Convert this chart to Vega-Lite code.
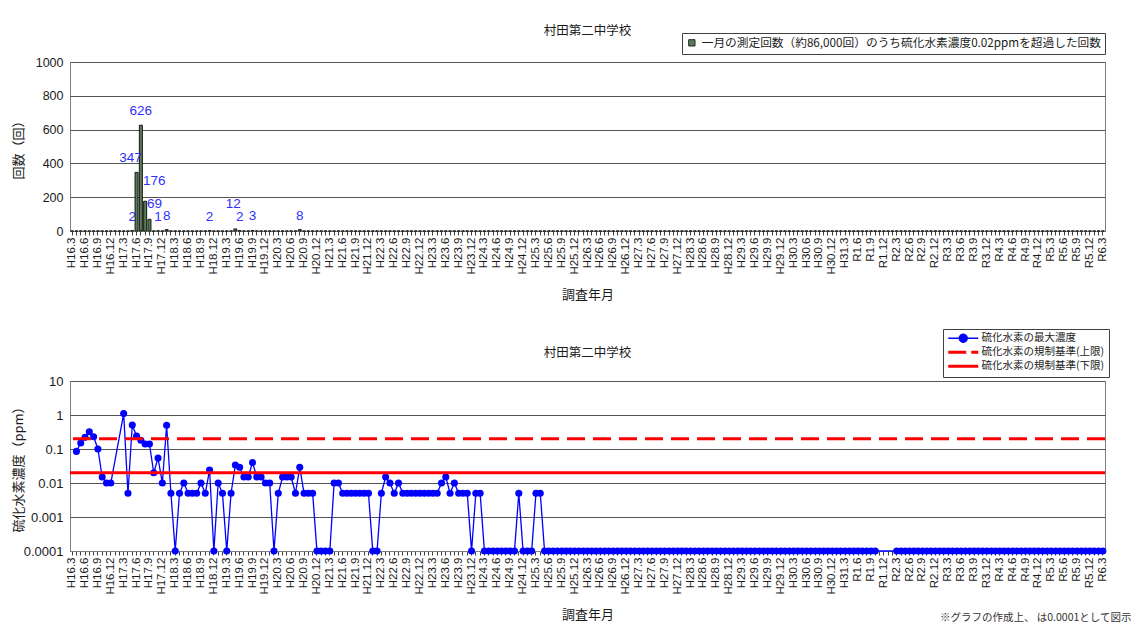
{
  "$schema": "https://vega.github.io/schema/vega-lite/v6.json",
  "background": "white",
  "padding": {"left": 11, "top": 24, "right": 0, "bottom": 4},
  "config": {
    "font": "Noto Sans CJK JP",
    "view": {"stroke": "#7f7f7f", "strokeWidth": 1},
    "axis": {
      "domainColor": "#7f7f7f",
      "tickColor": "#404040",
      "labelColor": "#1a1a1a",
      "titleColor": "#1a1a1a",
      "titleFont": "Noto Sans CJK JP",
      "titleFontWeight": "normal",
      "labelFont": "Liberation Sans",
      "gridColor": "#555555",
      "gridWidth": 1
    },
    "title": {"font": "Noto Sans CJK JP", "fontWeight": "normal", "color": "#1a1a1a", "fontSize": 12.5}
  },
  "title": {"text": "※グラフの作成上、 は0.0001として図示", "orient": "bottom", "anchor": "end", "fontSize": 10.5, "color": "#333333", "offset": -9, "dx": 22},
  "data": {"values": [
    {"m":"2004-03","c":0,"v":null},{"m":"2004-04","c":0,"v":0.085},{"m":"2004-05","c":0,"v":0.15},{"m":"2004-06","c":0,"v":0.22},{"m":"2004-07","c":0,"v":0.32},{"m":"2004-08","c":0,"v":0.23},{"m":"2004-09","c":0,"v":0.1},{"m":"2004-10","c":0,"v":0.015},{"m":"2004-11","c":0,"v":0.01},{"m":"2004-12","c":0,"v":0.01},
    {"m":"2005-01","c":0,"v":null},{"m":"2005-02","c":0,"v":null},{"m":"2005-03","c":0,"v":1.1},{"m":"2005-04","c":0,"v":0.005},{"m":"2005-05","c":2,"v":0.51},{"m":"2005-06","c":347,"v":0.24},{"m":"2005-07","c":626,"v":0.18},{"m":"2005-08","c":176,"v":0.14},{"m":"2005-09","c":69,"v":0.14},{"m":"2005-10","c":0,"v":0.02},{"m":"2005-11","c":1,"v":0.054},{"m":"2005-12","c":0,"v":0.01},
    {"m":"2006-01","c":8,"v":0.5},{"m":"2006-02","c":0,"v":0.005},{"m":"2006-03","c":0,"v":0.0001},{"m":"2006-04","c":0,"v":0.005},{"m":"2006-05","c":0,"v":0.01},{"m":"2006-06","c":0,"v":0.005},{"m":"2006-07","c":0,"v":0.005},{"m":"2006-08","c":0,"v":0.005},{"m":"2006-09","c":0,"v":0.01},{"m":"2006-10","c":0,"v":0.005},{"m":"2006-11","c":2,"v":0.024},{"m":"2006-12","c":0,"v":0.0001},
    {"m":"2007-01","c":0,"v":0.01},{"m":"2007-02","c":0,"v":0.005},{"m":"2007-03","c":0,"v":0.0001},{"m":"2007-04","c":0,"v":0.005},{"m":"2007-05","c":12,"v":0.034},{"m":"2007-06","c":2,"v":0.029},{"m":"2007-07","c":0,"v":0.015},{"m":"2007-08","c":0,"v":0.015},{"m":"2007-09","c":3,"v":0.04},{"m":"2007-10","c":0,"v":0.015},{"m":"2007-11","c":0,"v":0.015},{"m":"2007-12","c":0,"v":0.01},
    {"m":"2008-01","c":0,"v":0.01},{"m":"2008-02","c":0,"v":0.0001},{"m":"2008-03","c":0,"v":0.005},{"m":"2008-04","c":0,"v":0.015},{"m":"2008-05","c":0,"v":0.015},{"m":"2008-06","c":0,"v":0.015},{"m":"2008-07","c":0,"v":0.005},{"m":"2008-08","c":8,"v":0.029},{"m":"2008-09","c":0,"v":0.005},{"m":"2008-10","c":0,"v":0.005},{"m":"2008-11","c":0,"v":0.005},{"m":"2008-12","c":0,"v":0.0001},
    {"m":"2009-01","c":0,"v":0.0001},{"m":"2009-02","c":0,"v":0.0001},{"m":"2009-03","c":0,"v":0.0001},{"m":"2009-04","c":0,"v":0.01},{"m":"2009-05","c":0,"v":0.01},{"m":"2009-06","c":0,"v":0.005},{"m":"2009-07","c":0,"v":0.005},{"m":"2009-08","c":0,"v":0.005},{"m":"2009-09","c":0,"v":0.005},{"m":"2009-10","c":0,"v":0.005},{"m":"2009-11","c":0,"v":0.005},{"m":"2009-12","c":0,"v":0.005},
    {"m":"2010-01","c":0,"v":0.0001},{"m":"2010-02","c":0,"v":0.0001},{"m":"2010-03","c":0,"v":0.005},{"m":"2010-04","c":0,"v":0.015},{"m":"2010-05","c":0,"v":0.01},{"m":"2010-06","c":0,"v":0.005},{"m":"2010-07","c":0,"v":0.01},{"m":"2010-08","c":0,"v":0.005},{"m":"2010-09","c":0,"v":0.005},{"m":"2010-10","c":0,"v":0.005},{"m":"2010-11","c":0,"v":0.005},{"m":"2010-12","c":0,"v":0.005},
    {"m":"2011-01","c":0,"v":0.005},{"m":"2011-02","c":0,"v":0.005},{"m":"2011-03","c":0,"v":0.005},{"m":"2011-04","c":0,"v":0.005},{"m":"2011-05","c":0,"v":0.01},{"m":"2011-06","c":0,"v":0.015},{"m":"2011-07","c":0,"v":0.005},{"m":"2011-08","c":0,"v":0.01},{"m":"2011-09","c":0,"v":0.005},{"m":"2011-10","c":0,"v":0.005},{"m":"2011-11","c":0,"v":0.005},{"m":"2011-12","c":0,"v":0.0001},
    {"m":"2012-01","c":0,"v":0.005},{"m":"2012-02","c":0,"v":0.005},{"m":"2012-03","c":0,"v":0.0001},{"m":"2012-04","c":0,"v":0.0001},{"m":"2012-05","c":0,"v":0.0001},{"m":"2012-06","c":0,"v":0.0001},{"m":"2012-07","c":0,"v":0.0001},{"m":"2012-08","c":0,"v":0.0001},{"m":"2012-09","c":0,"v":0.0001},{"m":"2012-10","c":0,"v":0.0001},{"m":"2012-11","c":0,"v":0.005},{"m":"2012-12","c":0,"v":0.0001},
    {"m":"2013-01","c":0,"v":0.0001},{"m":"2013-02","c":0,"v":0.0001},{"m":"2013-03","c":0,"v":0.005},{"m":"2013-04","c":0,"v":0.005},{"m":"2013-05","c":0,"v":0.0001},{"m":"2013-06","c":0,"v":0.0001},{"m":"2013-07","c":0,"v":0.0001},{"m":"2013-08","c":0,"v":0.0001},{"m":"2013-09","c":0,"v":0.0001},{"m":"2013-10","c":0,"v":0.0001},{"m":"2013-11","c":0,"v":0.0001},{"m":"2013-12","c":0,"v":0.0001},
    {"m":"2014-01","c":0,"v":0.0001},{"m":"2014-02","c":0,"v":0.0001},{"m":"2014-03","c":0,"v":0.0001},{"m":"2014-04","c":0,"v":0.0001},{"m":"2014-05","c":0,"v":0.0001},{"m":"2014-06","c":0,"v":0.0001},{"m":"2014-07","c":0,"v":0.0001},{"m":"2014-08","c":0,"v":0.0001},{"m":"2014-09","c":0,"v":0.0001},{"m":"2014-10","c":0,"v":0.0001},{"m":"2014-11","c":0,"v":0.0001},{"m":"2014-12","c":0,"v":0.0001},
    {"m":"2015-01","c":0,"v":0.0001},{"m":"2015-02","c":0,"v":0.0001},{"m":"2015-03","c":0,"v":0.0001},{"m":"2015-04","c":0,"v":0.0001},{"m":"2015-05","c":0,"v":0.0001},{"m":"2015-06","c":0,"v":0.0001},{"m":"2015-07","c":0,"v":0.0001},{"m":"2015-08","c":0,"v":0.0001},{"m":"2015-09","c":0,"v":0.0001},{"m":"2015-10","c":0,"v":0.0001},{"m":"2015-11","c":0,"v":0.0001},{"m":"2015-12","c":0,"v":0.0001},
    {"m":"2016-01","c":0,"v":0.0001},{"m":"2016-02","c":0,"v":0.0001},{"m":"2016-03","c":0,"v":0.0001},{"m":"2016-04","c":0,"v":0.0001},{"m":"2016-05","c":0,"v":0.0001},{"m":"2016-06","c":0,"v":0.0001},{"m":"2016-07","c":0,"v":0.0001},{"m":"2016-08","c":0,"v":0.0001},{"m":"2016-09","c":0,"v":0.0001},{"m":"2016-10","c":0,"v":0.0001},{"m":"2016-11","c":0,"v":0.0001},{"m":"2016-12","c":0,"v":0.0001},
    {"m":"2017-01","c":0,"v":0.0001},{"m":"2017-02","c":0,"v":0.0001},{"m":"2017-03","c":0,"v":0.0001},{"m":"2017-04","c":0,"v":0.0001},{"m":"2017-05","c":0,"v":0.0001},{"m":"2017-06","c":0,"v":0.0001},{"m":"2017-07","c":0,"v":0.0001},{"m":"2017-08","c":0,"v":0.0001},{"m":"2017-09","c":0,"v":0.0001},{"m":"2017-10","c":0,"v":0.0001},{"m":"2017-11","c":0,"v":0.0001},{"m":"2017-12","c":0,"v":0.0001},
    {"m":"2018-01","c":0,"v":0.0001},{"m":"2018-02","c":0,"v":0.0001},{"m":"2018-03","c":0,"v":0.0001},{"m":"2018-04","c":0,"v":0.0001},{"m":"2018-05","c":0,"v":0.0001},{"m":"2018-06","c":0,"v":0.0001},{"m":"2018-07","c":0,"v":0.0001},{"m":"2018-08","c":0,"v":0.0001},{"m":"2018-09","c":0,"v":0.0001},{"m":"2018-10","c":0,"v":0.0001},{"m":"2018-11","c":0,"v":0.0001},{"m":"2018-12","c":0,"v":0.0001},
    {"m":"2019-01","c":0,"v":0.0001},{"m":"2019-02","c":0,"v":0.0001},{"m":"2019-03","c":0,"v":0.0001},{"m":"2019-04","c":0,"v":0.0001},{"m":"2019-05","c":0,"v":0.0001},{"m":"2019-06","c":0,"v":0.0001},{"m":"2019-07","c":0,"v":0.0001},{"m":"2019-08","c":0,"v":0.0001},{"m":"2019-09","c":0,"v":0.0001},{"m":"2019-10","c":0,"v":0.0001},{"m":"2019-11","c":0,"v":null},{"m":"2019-12","c":0,"v":null},
    {"m":"2020-01","c":0,"v":null},{"m":"2020-02","c":0,"v":null},{"m":"2020-03","c":0,"v":0.0001},{"m":"2020-04","c":0,"v":0.0001},{"m":"2020-05","c":0,"v":0.0001},{"m":"2020-06","c":0,"v":0.0001},{"m":"2020-07","c":0,"v":0.0001},{"m":"2020-08","c":0,"v":0.0001},{"m":"2020-09","c":0,"v":0.0001},{"m":"2020-10","c":0,"v":0.0001},{"m":"2020-11","c":0,"v":0.0001},{"m":"2020-12","c":0,"v":0.0001},
    {"m":"2021-01","c":0,"v":0.0001},{"m":"2021-02","c":0,"v":0.0001},{"m":"2021-03","c":0,"v":0.0001},{"m":"2021-04","c":0,"v":0.0001},{"m":"2021-05","c":0,"v":0.0001},{"m":"2021-06","c":0,"v":0.0001},{"m":"2021-07","c":0,"v":0.0001},{"m":"2021-08","c":0,"v":0.0001},{"m":"2021-09","c":0,"v":0.0001},{"m":"2021-10","c":0,"v":0.0001},{"m":"2021-11","c":0,"v":0.0001},{"m":"2021-12","c":0,"v":0.0001},
    {"m":"2022-01","c":0,"v":0.0001},{"m":"2022-02","c":0,"v":0.0001},{"m":"2022-03","c":0,"v":0.0001},{"m":"2022-04","c":0,"v":0.0001},{"m":"2022-05","c":0,"v":0.0001},{"m":"2022-06","c":0,"v":0.0001},{"m":"2022-07","c":0,"v":0.0001},{"m":"2022-08","c":0,"v":0.0001},{"m":"2022-09","c":0,"v":0.0001},{"m":"2022-10","c":0,"v":0.0001},{"m":"2022-11","c":0,"v":0.0001},{"m":"2022-12","c":0,"v":0.0001},
    {"m":"2023-01","c":0,"v":0.0001},{"m":"2023-02","c":0,"v":0.0001},{"m":"2023-03","c":0,"v":0.0001},{"m":"2023-04","c":0,"v":0.0001},{"m":"2023-05","c":0,"v":0.0001},{"m":"2023-06","c":0,"v":0.0001},{"m":"2023-07","c":0,"v":0.0001},{"m":"2023-08","c":0,"v":0.0001},{"m":"2023-09","c":0,"v":0.0001},{"m":"2023-10","c":0,"v":0.0001},{"m":"2023-11","c":0,"v":0.0001},{"m":"2023-12","c":0,"v":0.0001},
    {"m":"2024-01","c":0,"v":0.0001},{"m":"2024-02","c":0,"v":0.0001},{"m":"2024-03","c":0,"v":0.0001}
  ]},
  "resolve": {"scale": {"x": "shared"}},
  "spacing": 44,
  "vconcat": [
    {
      "width": 1035,
      "height": 169,
      "title": {"text": "村田第二中学校", "offset": 19},
      "encoding": {
        "x": {"field": "m", "type": "ordinal", "scale": {"type": "band", "paddingInner": 0, "paddingOuter": 0},
          "axis": {"title": "調査年月", "titleFontSize": 13, "titlePadding": 14, "labelAngle": 270, "labelFontSize": 11.5, "labelOverlap": false, "labelPadding": 2, "tickSize": 4,
            "labelExpr": "toNumber(slice(datum.value,5)) % 3 ? '' : (datum.value <= '2019-04' ? 'H' + (toNumber(slice(datum.value,0,4)) - 1988) : 'R' + (toNumber(slice(datum.value,0,4)) - 2018)) + '.' + toNumber(slice(datum.value,5))"}},
        "y": {"field": "c", "type": "quantitative", "scale": {"domain": [0, 1000]},
          "axis": {"title": "回数（回）", "titleFontSize": 13, "values": [0, 200, 400, 600, 800, 1000], "format": "d", "labelOverlap": false, "labelFontSize": 12.5, "tickSize": 0, "labelPadding": 7, "minExtent": 40, "maxExtent": 40, "titlePadding": 5, "domain": false}}
      },
      "layer": [
        {
          "mark": {"type": "bar", "stroke": "#111811", "strokeWidth": 1, "width": {"band": 0.7}},
          "encoding": {
            "fill": {"datum": "一月の測定回数（約86,000回）のうち硫化水素濃度0.02ppmを超過した回数", "type": "nominal", "scale": {"range": ["#5a7a5a"]},
              "legend": {"orient": "none", "legendX": 612, "legendY": -29, "direction": "horizontal", "title": null, "strokeColor": "#404040", "padding": 4, "symbolType": "square", "symbolSize": 40, "symbolStrokeColor": "#1e2a1e", "symbolStrokeWidth": 1, "labelFontSize": 11.7, "labelLimit": 600, "labelFont": "Noto Sans CJK JP", "labelColor": "#1a1a1a"}}
          }
        },
        {
          "transform": [{"filter": "datum.c > 0 && datum.c != 347 && datum.c != 176 && datum.c != 69 && datum.c != 12"}],
          "mark": {"type": "text", "dy": -14, "color": "#2f2fff", "fontSize": 13.5, "font": "Liberation Sans"},
          "encoding": {"text": {"field": "c", "type": "quantitative"}}
        },
        {
          "transform": [{"filter": "datum.c == 347"}],
          "mark": {"type": "text", "dy": -14, "dx": -6, "color": "#2f2fff", "fontSize": 13.5, "font": "Liberation Sans"},
          "encoding": {"text": {"field": "c", "type": "quantitative"}}
        },
        {
          "transform": [{"filter": "datum.c == 176"}],
          "mark": {"type": "text", "dy": -20, "dx": 9, "color": "#2f2fff", "fontSize": 13.5, "font": "Liberation Sans"},
          "encoding": {"text": {"field": "c", "type": "quantitative"}}
        },
        {
          "transform": [{"filter": "datum.c == 69"}],
          "mark": {"type": "text", "dy": -15, "dx": 5, "color": "#2f2fff", "fontSize": 13.5, "font": "Liberation Sans"},
          "encoding": {"text": {"field": "c", "type": "quantitative"}}
        },
        {
          "transform": [{"filter": "datum.c == 12"}],
          "mark": {"type": "text", "dy": -25, "dx": -2, "color": "#2f2fff", "fontSize": 13.5, "font": "Liberation Sans"},
          "encoding": {"text": {"field": "c", "type": "quantitative"}}
        }
      ]
    },
    {
      "width": 1035,
      "height": 170,
      "title": {"text": "村田第二中学校", "offset": 16},
      "layer": [
        {
          "transform": [{"filter": "isValid(datum.v)"}],
          "mark": {"type": "line", "strokeWidth": 1.3, "point": {"filled": true, "size": 50, "opacity": 1}},
          "encoding": {
            "x": {"field": "m", "type": "ordinal", "scale": {"type": "band", "paddingInner": 0, "paddingOuter": 0},
              "axis": {"title": "調査年月", "titleFontSize": 13, "titlePadding": 14, "labelAngle": 270, "labelFontSize": 11.5, "labelOverlap": false, "labelPadding": 2, "tickSize": 4,
                "labelExpr": "toNumber(slice(datum.value,5)) % 3 ? '' : (datum.value <= '2019-04' ? 'H' + (toNumber(slice(datum.value,0,4)) - 1988) : 'R' + (toNumber(slice(datum.value,0,4)) - 2018)) + '.' + toNumber(slice(datum.value,5))"}},
            "y": {"field": "v", "type": "quantitative", "scale": {"type": "log", "domain": [0.0001, 10]},
              "axis": {"title": "硫化水素濃度（ppm）", "titleFontSize": 13, "values": [0.0001, 0.001, 0.01, 0.1, 1, 10], "format": "~g", "labelOverlap": false, "labelFontSize": 13, "tickSize": 0, "labelPadding": 7, "minExtent": 40, "maxExtent": 40, "titlePadding": 5, "domain": false}},
            "color": {"datum": "硫化水素の最大濃度", "type": "nominal",
              "scale": {"domain": ["硫化水素の最大濃度", "硫化水素の規制基準(上限)", "硫化水素の規制基準(下限)"], "range": ["#0000ff", "#ff0000", "#ff0000"]},
              "legend": {"orient": "none", "legendX": 873, "legendY": 267, "direction": "vertical", "title": null, "strokeColor": "#404040", "padding": 4, "symbolSize": 64, "labelOffset": 24, "rowPadding": 1, "labelFontSize": 10.5, "labelLimit": 300, "labelFont": "Noto Sans CJK JP", "labelColor": "#1a1a1a",
                "encode": {"symbols": {"update": {
                  "shape": {"signal": "datum.value == '硫化水素の最大濃度' ? 'M-1,0L6.5,0M1.75,0A1,1,0,1,1,3.75,0A1,1,0,1,1,1.75,0Z' : 'M-1,0L6.5,0'"},
                  "fill": {"signal": "datum.value == '硫化水素の最大濃度' ? '#0000ff' : 'transparent'"},
                  "stroke": {"signal": "datum.value == '硫化水素の最大濃度' ? '#0000ff' : '#ff0000'"},
                  "strokeWidth": {"signal": "datum.value == '硫化水素の最大濃度' ? 1.3 : 3"},
                  "strokeDash": {"signal": "datum.value == '硫化水素の規制基準(上限)' ? [18, 5] : [1, 0]"}
                }}}}}
          }
        },
        {
          "data": {"values": [{"s": "硫化水素の規制基準(上限)", "y": 0.2}, {"s": "硫化水素の規制基準(下限)", "y": 0.02}]},
          "mark": {"type": "rule", "strokeWidth": 3},
          "encoding": {
            "y": {"field": "y", "type": "quantitative",
              "axis": {"title": "硫化水素濃度（ppm）", "titleFontSize": 13, "values": [0.0001, 0.001, 0.01, 0.1, 1, 10], "format": "~g", "labelOverlap": false, "labelFontSize": 13, "tickSize": 0, "labelPadding": 7, "minExtent": 40, "maxExtent": 40, "titlePadding": 5, "domain": false}},
            "color": {"field": "s", "type": "nominal", "legend": null},
            "strokeDash": {"field": "s", "type": "nominal", "scale": {"domain": ["硫化水素の規制基準(上限)", "硫化水素の規制基準(下限)"], "range": [[18, 8], [1, 0]]}, "legend": null}
          }
        }
      ]
    }
  ]
}
